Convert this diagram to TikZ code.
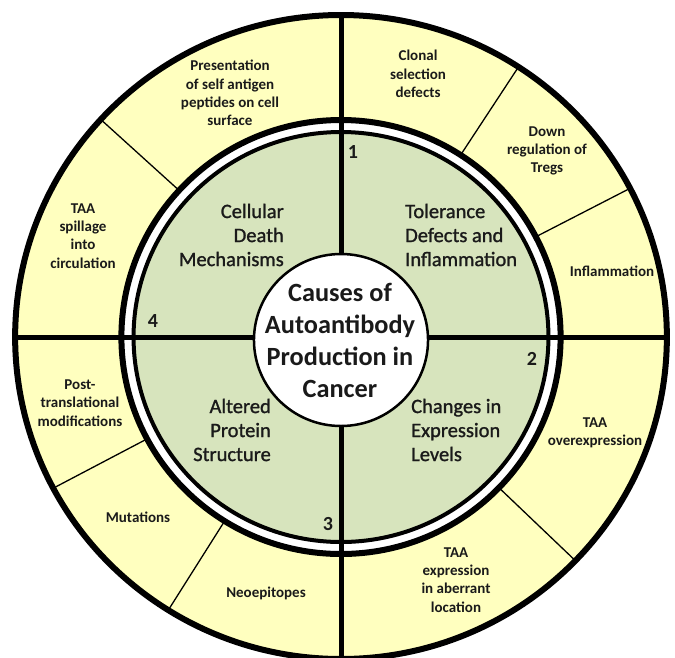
\documentclass[tikz,border=0pt]{standalone}
\usepackage{fontspec}
\setmainfont{Carlito}
\newfontfamily\midfont[FakeBold=1.2]{Carlito}
\definecolor{ringyellow}{HTML}{FFFFBF}
\definecolor{coregreen}{HTML}{D7E4BD}
\definecolor{inktext}{HTML}{1A1A1A}
\begin{document}
\begin{tikzpicture}[x=1pt,y=-1pt,
  small/.style={font=\bfseries\fontsize{15}{18.3}\selectfont, align=center, inner sep=0pt, text=inktext},
  mid/.style={font=\midfont\fontsize{20.5}{24}\selectfont, inner sep=0pt, text=inktext},
  big/.style={font=\bfseries\fontsize{26.3}{32}\selectfont, align=center, inner sep=0pt, text=inktext},
  num/.style={font=\bfseries\fontsize{20}{24}\selectfont, inner sep=0pt, text=inktext},
  divider/.style={line width=1.3pt},
  spoke/.style={line width=5pt},
  rim/.style={line width=6pt}]
\useasboundingbox (0,0) rectangle (675,657);
\begin{scope}[shift={(341,337)}, yscale=-1, xscale=1.012]
  \fill[ringyellow] (0,0) circle (322);
  \foreach \a in {137.5,57,27.5,-44,208,238}
    \draw[divider] (\a:215) -- (\a:322);
  \draw[rim, fill=white] (0,0) circle (217);
  \draw[rim] (0,0) circle (322);
  \draw[line width=4pt, fill=coregreen] (0,0) circle (205);
  \draw[spoke] (0,80) -- (0,324);
  \draw[spoke] (0,-80) -- (0,-324);
  \draw[spoke] (80,0) -- (324,0);
  \draw[spoke] (-80,0) -- (-324,0);
  \draw[line width=2.5pt, fill=white] (0,-3) circle (86);
\end{scope}
% outer ring labels
\node[small] (p1) at (230,93) {Presentation\\of self antigen\\peptides on cell\\surface};
\node[small] (p2) at (83,236) {TAA\\spillage\\into\\circulation};
\node[small] (p3) at (418,74) {Clonal\\selection\\defects};
\node[small] (p4) at (547,151) {Down\\regulation of\\Tregs};
\node[small] (p5) at (612,271) {Inflammation};
\node[small] (p6) at (595,433) {TAA\\overexpression};
\node[small] (p7) at (456,580) {TAA\\expression\\in aberrant\\location};
\node[small] (p8) at (80,403) {Post-\\translational\\modifications};
\node[small] (p9) at (138,517) {Mutations};
\node[small] (p10) at (266,593) {Neoepitopes};
% inner green labels
\node[mid, anchor=east, align=right] (g1) at (284,235) {Cellular\\Death\\Mechanisms};
\node[mid, anchor=west, align=left] (g2) at (405,235) {Tolerance\\Defects and\\Inflammation};
\node[mid, anchor=east, align=right] (g3) at (271,430) {Altered\\Protein\\Structure};
\node[mid, anchor=west, align=left] (g4) at (411,430) {Changes in\\Expression\\Levels};
% numbers
\node[num] (n1) at (353,152) {1};
\node[num] (n2) at (532,359) {2};
\node[num] (n3) at (328,524) {3};
\node[num] (n4) at (153,321) {4};
% centre
\node[big] (c) at (340,340) {Causes of\\Autoantibody\\Production in\\Cancer};
\end{tikzpicture}
\end{document}
